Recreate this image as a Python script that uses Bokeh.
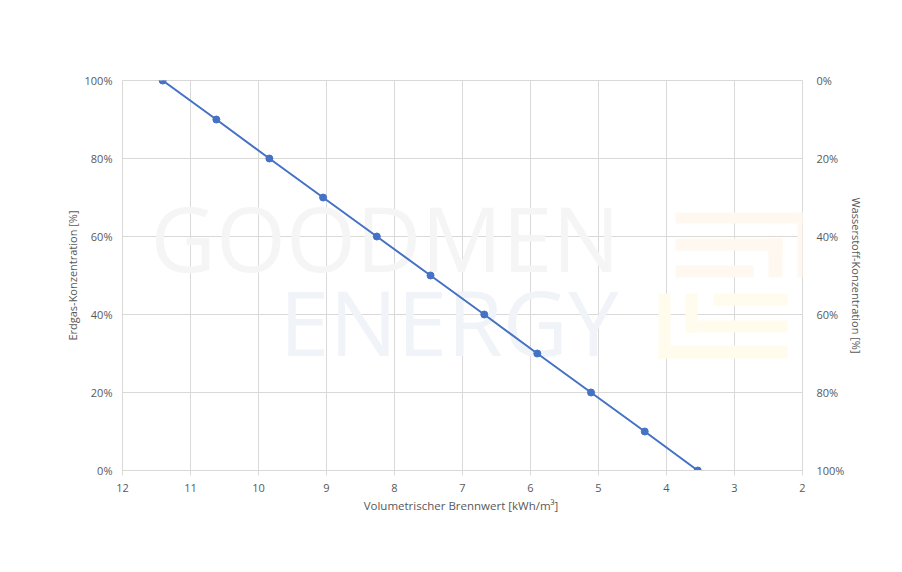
from bokeh.plotting import figure
from bokeh.models import Range1d, LinearAxis, FixedTicker, Label, BoxAnnotation
from bokeh.embed import file_html
from bokeh.resources import INLINE

# data
brennwert = [11.41, 10.62, 9.84, 9.05, 8.26, 7.47, 6.68, 5.90, 5.11, 4.32, 3.54]
erdgas = [100, 90, 80, 70, 60, 50, 40, 30, 20, 10, 0]

x_ticks = [12, 11, 10, 9, 8, 7, 6, 5, 4, 3, 2]
y_ticks = [0, 20, 40, 60, 80, 100]
y_labels = ["0%", "20%", "40%", "60%", "80%", "100%"]
h2_ticks = [0, 20, 40, 60, 80, 100]
h2_labels = ["0%", "20%", "40%", "60%", "80%", "100%"]

FONT = "Open Sans"
TXT = "#595959"
GRID = "#d9d9d9"
BLUE = "#4472C4"

p = figure(width=886, height=556, output_backend="svg", toolbar_location=None,
           x_range=Range1d(12, 2), y_range=Range1d(0, 100),
           min_border_left=122, min_border_right=84, min_border_top=80, min_border_bottom=86,
           background_fill_color="white", border_fill_color="white")
p.outline_line_color = GRID

# ---- faint background watermark (decoration only) ----
def dx(px):  # page pixel -> x data
    return 12 - (px - 122) / 68.0

def dy(py):  # page pixel -> y data
    return (470 - py) / 3.9

p.add_layout(Label(x=dx(150), y=dy(236), text="GOODMEN",
                   text_font=FONT, text_font_size="90px", text_color="#f5f5f5",
                   text_baseline="alphabetic", level="underlay"))
p.add_layout(Label(x=dx(279), y=dy(320), text="ENERGY",
                   text_font=FONT, text_font_size="90px", text_color="#f0f3f7",
                   text_baseline="alphabetic", level="underlay"))

logo_orange = [(675, 807, 212, 223), (797, 807, 212, 277), (675, 782, 238, 250),
               (768, 782, 238, 277), (675, 753, 265, 277)]
logo_yellow = [(658, 670, 293, 358), (658, 787, 345, 358), (685, 697, 293, 332),
               (685, 787, 320, 332), (713, 787, 293, 305)]
for boxes, col in ((logo_orange, "#fff8f0"), (logo_yellow, "#fffcee")):
    for l, r, t, b in boxes:
        p.add_layout(BoxAnnotation(left=dx(l), right=dx(r), top=dy(t), bottom=dy(b),
                                   fill_color=col, fill_alpha=1, line_color=None,
                                   level="underlay"))

p.extra_y_ranges = {"h2": Range1d(100, 0)}

# x axis
xa = p.xaxis[0]
xa.ticker = FixedTicker(ticks=x_ticks)
xa.minor_tick_line_color = None
xa.axis_line_color = GRID
xa.major_tick_line_color = GRID
xa.major_tick_out = 5
xa.major_tick_in = 0
xa.major_label_standoff = 8
xa.major_label_text_font = FONT
xa.major_label_text_font_size = "11px"
xa.major_label_text_color = TXT
xa.axis_label = "Volumetrischer Brennwert  [kWh/m³]"
xa.axis_label_text_font = FONT
xa.axis_label_text_font_size = "11.5px"
xa.axis_label_text_font_style = "normal"
xa.axis_label_text_color = TXT
xa.axis_label_standoff = 3

# left y axis
ya = p.yaxis[0]
ya.ticker = FixedTicker(ticks=y_ticks)
ya.major_label_overrides = {t: l for t, l in zip(y_ticks, y_labels)}
ya.minor_tick_line_color = None
ya.major_tick_line_color = None
ya.axis_line_color = None
ya.major_label_standoff = 4
ya.major_label_text_font = FONT
ya.major_label_text_font_size = "11px"
ya.major_label_text_color = TXT
ya.axis_label = "Erdgas-Konzentration [%]"
ya.axis_label_text_font = FONT
ya.axis_label_text_font_size = "11px"
ya.axis_label_text_font_style = "normal"
ya.axis_label_text_color = TXT
ya.axis_label_standoff = 2

# right y axis
ra = LinearAxis(y_range_name="h2", ticker=FixedTicker(ticks=h2_ticks))
ra.major_label_overrides = {t: l for t, l in zip(h2_ticks, h2_labels)}
ra.minor_tick_line_color = None
ra.major_tick_line_color = None
ra.axis_line_color = None
ra.major_label_standoff = 8
ra.major_label_text_font = FONT
ra.major_label_text_font_size = "11px"
ra.major_label_text_color = TXT
ra.axis_label = "Wasserstoff-Konzentration [%]"
ra.axis_label_text_font = FONT
ra.axis_label_text_font_size = "11px"
ra.axis_label_text_font_style = "normal"
ra.axis_label_text_color = TXT
ra.axis_label_standoff = 2
p.add_layout(ra, "right")

p.xgrid.ticker = FixedTicker(ticks=x_ticks)
p.ygrid.ticker = FixedTicker(ticks=y_ticks)
p.xgrid.grid_line_color = GRID
p.ygrid.grid_line_color = GRID

p.line(brennwert, erdgas, line_color=BLUE, line_width=2)
p.scatter(brennwert, erdgas, size=7, fill_color=BLUE, line_color=BLUE)

open("out.html", "w").write(file_html(p, INLINE))
